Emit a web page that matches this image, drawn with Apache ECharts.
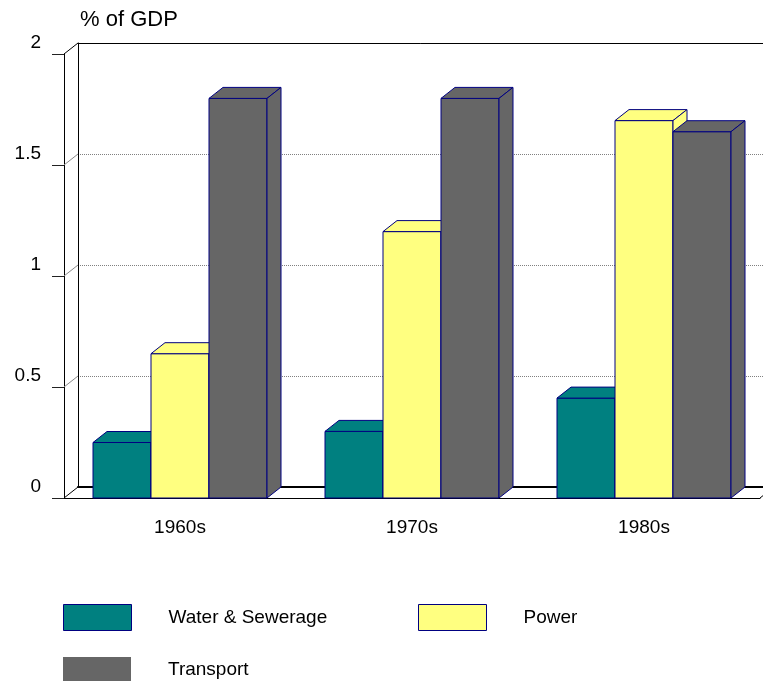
<!DOCTYPE html>
<html>
<head>
<meta charset="utf-8">
<script src="https://cdn.jsdelivr.net/npm/echarts@6/dist/echarts.min.js"></script>
<style>
  html, body { margin: 0; padding: 0; background: #fff; }
  #chart { width: 763px; height: 681px; }
</style>
</head>
<body>
<div id="chart"></div>
<script>
// Infrastructure spending by decade, % of GDP
const categories = ['1960s', '1970s', '1980s'];
const seriesNames = ['Water & Sewerage', 'Power', 'Transport'];
const waterSewerage = [0.25, 0.30, 0.45];
const power = [0.65, 1.20, 1.70];
const transport = [1.80, 1.80, 1.65];
const yTicks = [0, 0.5, 1, 1.5, 2];

const colors = ['#008080', '#FFFF80', '#666666'];
const edge = '#000080';
const FONT = '"Liberation Sans", Arial, sans-serif';
// pixel offset from the front plane to the back wall
const DEPTH = [14, -11];

const chart = echarts.init(document.getElementById('chart'), null, { renderer: 'canvas' });

// one 3D-looking bar per data item: front face, top face and right side face
function barRenderer(seriesIndex) {
  return function (params, api) {
    const cat = api.value(0);
    const val = api.value(1);
    const base = api.coord([cat, 0]);
    const top = api.coord([cat, val]);
    const band = api.size([1, 0])[0];
    const bw = band / 4;
    const x0 = base[0] - 1.5 * bw + seriesIndex * bw;
    const x1 = x0 + bw;
    const yb = base[1];
    const yt = top[1];
    const dx = DEPTH[0], dy = DEPTH[1];
    const style = { fill: colors[seriesIndex], stroke: edge, lineWidth: 1 };
    return {
      type: 'group',
      children: [
        { type: 'rect', shape: { x: x0, y: yt, width: bw, height: yb - yt }, style: style },
        { type: 'polygon', shape: { points: [[x0, yt], [x0 + dx, yt + dy], [x1 + dx, yt + dy], [x1, yt]] }, style: style },
        { type: 'polygon', shape: { points: [[x1, yt], [x1 + dx, yt + dy], [x1 + dx, yb + dy], [x1, yb]] }, style: style }
      ]
    };
  };
}

// side-wall connectors between the front ticks and the back gridlines
function wallRenderer(params, api) {
  const v = api.value(1);
  const cs = params.coordSys;
  const y = api.coord([0, v])[1];
  const edgeLine = (v === yTicks[0] || v === yTicks[yTicks.length - 1]);
  const children = [{
    type: 'line',
    shape: { x1: cs.x, y1: y, x2: cs.x + DEPTH[0], y2: y + DEPTH[1] },
    style: { stroke: edgeLine ? '#000' : '#888', lineWidth: 1 }
  }];
  if (params.dataIndex === 0) {
    const xr = cs.x + cs.width;
    const yb = cs.y + cs.height;
    children.push({
      type: 'line',
      shape: { x1: xr, y1: yb, x2: xr + DEPTH[0], y2: yb + DEPTH[1] },
      style: { stroke: '#000', lineWidth: 1 }
    });
  }
  return { type: 'group', children: children };
}

const values = [waterSewerage, power, transport];

const legendBase = {
  padding: 0,
  icon: 'rect',
  itemWidth: 68,
  itemHeight: 26,
  selectedMode: false,
  textStyle: { fontFamily: FONT, fontSize: 19, color: '#000', padding: [0, 0, 0, 32] }
};

const option = {
  animation: false,
  backgroundColor: '#fff',
  title: {
    text: '% of GDP',
    left: 80,
    top: 9,
    padding: 0,
    textStyle: { fontFamily: FONT, fontSize: 22, fontWeight: 'normal', color: '#000' }
  },
  legend: [
    Object.assign({}, legendBase, {
      left: 63, top: 604,
      data: [{ name: seriesNames[0], itemStyle: { color: colors[0], borderColor: edge, borderWidth: 1 } }]
    }),
    Object.assign({}, legendBase, {
      left: 418, top: 604,
      data: [{ name: seriesNames[1], itemStyle: { color: colors[1], borderColor: edge, borderWidth: 1 } }]
    }),
    Object.assign({}, legendBase, {
      left: 63, top: 657,
      data: [{ name: seriesNames[2], itemStyle: { color: colors[2], borderWidth: 0 } }]
    })
  ],
  grid: [
    // front plane
    { left: 64, top: 54, width: 696, height: 444 },
    // back wall
    { left: 78, top: 43, width: 696, height: 444 }
  ],
  xAxis: [
    {
      gridIndex: 0, type: 'category', data: categories, boundaryGap: true,
      axisLine: { lineStyle: { color: '#000', width: 1 } },
      axisTick: { alignWithLabel: true, length: 8, lineStyle: { color: '#444' } },
      axisLabel: { margin: 20, fontFamily: FONT, fontSize: 19, color: '#000' }
    },
    {
      gridIndex: 1, type: 'category', data: categories, position: 'bottom',
      axisLine: { lineStyle: { color: '#000', width: 2 } },
      axisTick: { show: false }, axisLabel: { show: false }
    },
    {
      gridIndex: 1, type: 'category', data: categories, position: 'top',
      axisLine: { lineStyle: { color: '#000', width: 1 } },
      axisTick: { show: false }, axisLabel: { show: false }
    }
  ],
  yAxis: [
    {
      gridIndex: 0, type: 'value', min: 0, max: 2, interval: 0.5,
      axisLine: { show: true, lineStyle: { color: '#000', width: 1 } },
      axisTick: { show: true, inside: false, length: 12, lineStyle: { color: '#222' } },
      axisLabel: { show: false },
      splitLine: { show: false }
    },
    {
      gridIndex: 1, type: 'value', min: 0, max: 2, interval: 0.5,
      axisLine: { show: true, lineStyle: { color: '#000', width: 1 } },
      axisTick: { show: false },
      axisLabel: { margin: 37, fontFamily: FONT, fontSize: 19, color: '#000' },
      splitLine: { show: true, lineStyle: { color: '#808080', type: 'dotted', width: 1 } }
    }
  ],
  series: [
    {
      type: 'custom', name: 'wall', xAxisIndex: 0, yAxisIndex: 0, z: 1,
      silent: true,
      data: yTicks.map(v => [0, v]),
      encode: { x: 0, y: 1 },
      renderItem: wallRenderer
    }
  ].concat(seriesNames.map((name, i) => ({
    type: 'custom',
    name: name,
    xAxisIndex: 0, yAxisIndex: 0,
    itemStyle: { color: colors[i] },
    data: values[i].map((v, c) => [c, v]),
    encode: { x: 0, y: 1 },
    renderItem: barRenderer(i)
  })))
};

chart.setOption(option);
</script>
</body>
</html>
